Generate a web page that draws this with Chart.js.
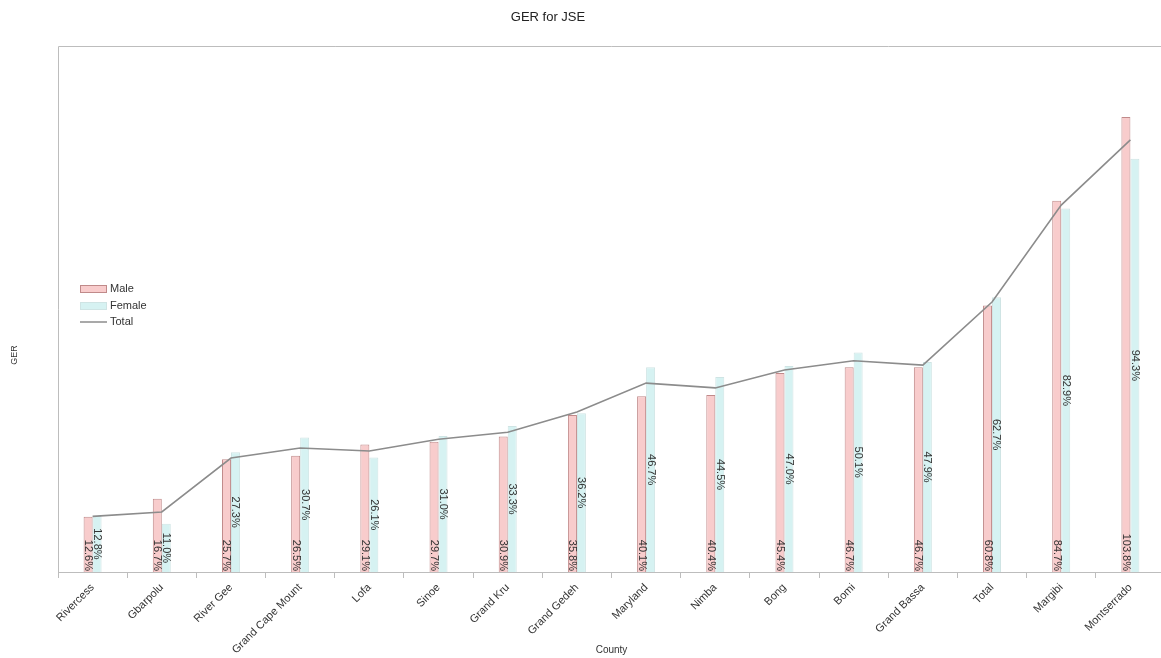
<!DOCTYPE html>
<html>
<head>
<meta charset="utf-8">
<script src="https://cdn.jsdelivr.net/npm/chart.js"></script>
<style>
    body { margin: 0; background: #fff; overflow: hidden; }
    #wrap { position: relative; width: 1165px; height: 658px; }
</style>
</head>
<body>
<div id="wrap"><canvas id="gerChart"></canvas></div>
<script>
// Данные графика
const counties = ['Rivercess', 'Gbarpolu', 'River Gee', 'Grand Cape Mount', 'Lofa', 'Sinoe', 'Grand Kru',
    'Grand Gedeh', 'Maryland', 'Nimba', 'Bong', 'Bomi', 'Grand Bassa', 'Total', 'Margibi', 'Montserrado'];
const maleGer = [12.6, 16.7, 25.7, 26.5, 29.1, 29.7, 30.9, 35.8, 40.1, 40.4, 45.4, 46.7, 46.7, 60.8, 84.7, 103.8];
const femaleGer = [12.8, 11.0, 27.3, 30.7, 26.1, 31.0, 33.3, 36.2, 46.7, 44.5, 47.0, 50.1, 47.9, 62.7, 82.9, 94.3];
const totalGer = [12.7, 13.7, 26.0, 28.3, 27.6, 30.3, 31.9, 36.5, 43.1, 42.0, 46.1, 48.2, 47.2, 61.6, 83.7, 98.6];

const font = "'Liberation Sans', Arial, sans-serif";

// Подписи значений на столбцах (повернуты на 90°)
const barLabels = {
    id: 'barLabels',
    afterDatasetsDraw(chart) {
        const ctx = chart.ctx;
        ctx.save();
        ctx.font = '11px ' + font;
        ctx.fillStyle = '#333';
        ctx.textBaseline = 'middle';
        [0, 1].forEach(di => {
            const meta = chart.getDatasetMeta(di);
            const data = chart.data.datasets[di].data;
            meta.data.forEach((bar, i) => {
                const txt = data[i].toFixed(1) + '%';
                ctx.save();
                if (di === 0) {
                    ctx.translate(bar.x, bar.base - 1);
                    ctx.rotate(Math.PI / 2);
                    ctx.textAlign = 'right';
                    ctx.fillText(txt, 0, 0);
                } else {
                    ctx.translate(bar.x, (bar.y + bar.base) / 2);
                    ctx.rotate(Math.PI / 2);
                    ctx.textAlign = 'center';
                    ctx.fillText(txt, 0, 0);
                }
                ctx.restore();
            });
        });
        ctx.restore();
    }
};

// Рамка, заголовок, легенда, подпись оси Y
const decorations = {
    id: 'decorations',
    beforeDatasetsDraw(chart) {
        const ctx = chart.ctx;
        const a = chart.chartArea;
        ctx.save();
        ctx.strokeStyle = '#bdbdbd';
        ctx.lineWidth = 1;
        ctx.beginPath();
        ctx.moveTo(a.left + 0.5, a.bottom);
        ctx.lineTo(a.left + 0.5, a.top + 0.5);
        ctx.lineTo(a.right, a.top + 0.5);
        ctx.stroke();
        ctx.restore();
    },
    afterDraw(chart) {
        const ctx = chart.ctx;
        ctx.save();
        ctx.fillStyle = '#222';
        ctx.font = '13px ' + font;
        ctx.textAlign = 'center';
        ctx.textBaseline = 'middle';
        ctx.fillText('GER for JSE', 548, 17);

        ctx.save();
        ctx.font = '9px ' + font;
        ctx.fillStyle = '#333';
        ctx.translate(15, 355);
        ctx.rotate(-Math.PI / 2);
        ctx.fillText('GER', 0, 0);
        ctx.restore();

        // легенда
        ctx.font = '11px ' + font;
        ctx.textAlign = 'left';
        ctx.fillStyle = '#f8cccc';
        ctx.fillRect(80, 285, 27, 8);
        ctx.strokeStyle = '#c08a8a';
        ctx.strokeRect(80.5, 285.5, 26, 7);
        ctx.fillStyle = '#d6f2f2';
        ctx.fillRect(80, 302, 27, 8);
        ctx.strokeStyle = '#cfe4e4';
        ctx.strokeRect(80.5, 302.5, 26, 7);
        ctx.strokeStyle = '#8c8c8c';
        ctx.lineWidth = 1.5;
        ctx.beginPath();
        ctx.moveTo(80, 322);
        ctx.lineTo(107, 322);
        ctx.stroke();
        ctx.fillStyle = '#333';
        ctx.fillText('Male', 110, 289);
        ctx.fillText('Female', 110, 306);
        ctx.fillText('Total', 110, 322);
        ctx.restore();
    }
};

const ctx = document.getElementById('gerChart').getContext('2d');
const gerChart = new Chart(ctx, {
    type: 'bar',
    data: {
        labels: counties,
        datasets: [{
            label: 'Male',
            data: maleGer,
            backgroundColor: '#f8cccc',
            borderColor: '#c08a8a',
            borderWidth: 1,
            categoryPercentage: 0.26,
            barPercentage: 1.0,
            order: 2
        }, {
            label: 'Female',
            data: femaleGer,
            backgroundColor: '#d6f2f2',
            borderColor: '#cfe4e4',
            borderWidth: 1,
            categoryPercentage: 0.26,
            barPercentage: 1.0,
            order: 2
        }, {
            type: 'line',
            label: 'Total',
            data: totalGer,
            borderColor: '#8c8c8c',
            borderWidth: 1.6,
            pointRadius: 0,
            tension: 0,
            order: 1
        }]
    },
    options: {
        responsive: true,
        maintainAspectRatio: false,
        animation: false,
        layout: { padding: { top: 46, left: 58, right: 0 } },
        plugins: {
            legend: { display: false },
            tooltip: { enabled: false }
        },
        scales: {
            x: {
                offset: true,
                grid: {
                    offset: true,
                    drawOnChartArea: false,
                    color: '#bdbdbd',
                    tickLength: 6
                },
                border: { color: '#bdbdbd' },
                ticks: {
                    minRotation: 45,
                    maxRotation: 45,
                    autoSkip: false,
                    color: '#333',
                    font: { family: font, size: 11 }
                },
                title: {
                    display: true,
                    text: 'County',
                    color: '#333',
                    font: { family: font, size: 10 },
                    padding: { top: 0, bottom: 2 }
                },
                afterFit(scale) { scale.height = 86; }
            },
            y: {
                display: false,
                min: 0,
                max: 120
            }
        }
    },
    plugins: [barLabels, decorations]
});
</script>
</body>
</html>
